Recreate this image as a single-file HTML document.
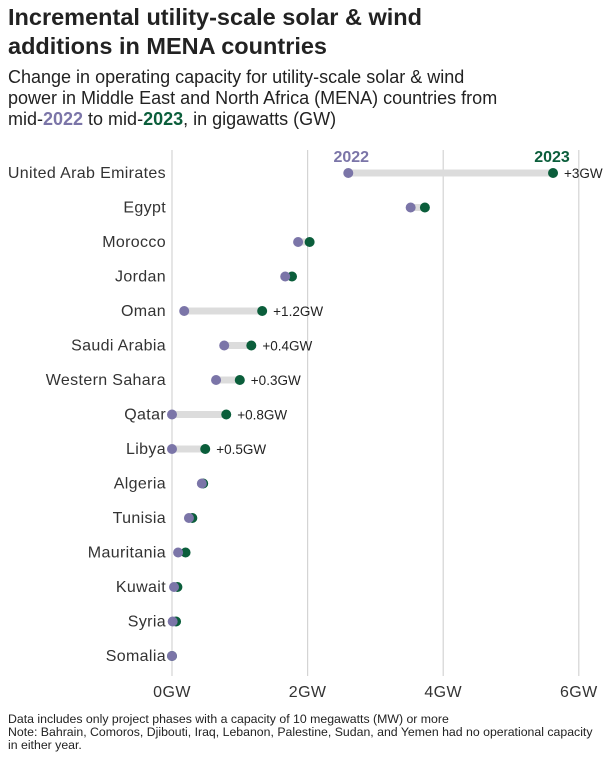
<!DOCTYPE html>
<html><head><meta charset="utf-8"><style>
body{margin:0;background:#fff;font-family:"Liberation Sans",sans-serif;color:#222;width:615px;height:762px;overflow:hidden;position:relative}
#title{position:absolute;left:8px;top:3px;font-size:23.5px;font-weight:bold;line-height:29px;color:#222}
#sub{position:absolute;left:8px;top:67px;font-size:18px;line-height:21px;color:#222}
#notes{position:absolute;left:8px;top:713px;font-size:12.3px;line-height:13px;color:#222}
</style></head><body>
<div id="title">Incremental utility-scale solar &amp; wind<br>additions in MENA countries</div>
<div id="sub">Change in operating capacity for utility-scale solar &amp; wind<br>power in Middle East and North Africa (MENA) countries from<br>mid-<b style="color:#7b75a8">2022</b> to mid-<b style="color:#0b5e3b">2023</b>, in gigawatts (GW)</div>
<svg id="chart" width="615" height="762" style="position:absolute;left:0;top:0"></svg>
<div id="notes">Data includes only project phases with a capacity of 10 megawatts (MW) or more<br>Note: Bahrain, Comoros, Djibouti, Iraq, Lebanon, Palestine, Sudan, and Yemen had no operational capacity<br>in either year.</div>
<script>
const countries=["United Arab Emirates","Egypt","Morocco","Jordan","Oman","Saudi Arabia","Western Sahara","Qatar","Libya","Algeria","Tunisia","Mauritania","Kuwait","Syria","Somalia"];
const v2022=[2.6,3.52,1.86,1.67,0.18,0.77,0.65,0,0,0.44,0.25,0.09,0.03,0.01,0];
const v2023=[5.62,3.73,2.03,1.77,1.33,1.17,1.0,0.8,0.49,0.46,0.30,0.2,0.08,0.06,0];
const changeLabels=["+3GW","","","","+1.2GW","+0.4GW","+0.3GW","+0.8GW","+0.5GW","","","","","",""];
const ticks=[0,2,4,6];
const tickLabels=["0GW","2GW","4GW","6GW"];
const NS="http://www.w3.org/2000/svg";
const svg=document.getElementById("chart");
const x=v=>172+v*67.8;
const y=i=>173+i*34.5;
function mk(t,a){const e=document.createElementNS(NS,t);for(const k in a)e.setAttribute(k,a[k]);svg.appendChild(e);return e;}
ticks.forEach((t,i)=>{
  const g=mk("line",{x1:x(t),x2:x(t),y1:150,y2:676,stroke:"#d4d4d4","stroke-width":1.2});
  
  
  const l=mk("text",{x:x(t),y:697,"text-anchor":"middle","font-size":16,"letter-spacing":0.4,fill:"#333"});
  l.textContent=tickLabels[i];
  
  
});
countries.forEach((c,i)=>{
  const cy=y(i);
  const t=mk("text",{x:166,y:cy+5,"text-anchor":"end","font-size":16,"letter-spacing":0.35,fill:"#333"});
  t.textContent=c;
  
  
  const ln=mk("line",{x1:x(v2022[i]),x2:x(v2023[i]),y1:cy,y2:cy,stroke:"#dcdcdc","stroke-width":7});
  
  
  const d2=mk("circle",{cx:x(v2023[i]),cy:cy,r:5,fill:"#0b5e3b"});
  
  
  const d1=mk("circle",{cx:x(v2022[i]),cy:cy,r:5,fill:"#7b75a8"});
  
  
  if(changeLabels[i]){
    const cl=mk("text",{x:x(v2023[i])+11,y:cy+5,"font-size":13.5,fill:"#222"});
    cl.textContent=changeLabels[i];
    
    
  }
});
const a=mk("text",{x:x(v2022[0])+3,y:162,"text-anchor":"middle","font-size":16,"font-weight":"bold",fill:"#7b75a8"});
a.textContent="2022";


const b=mk("text",{x:x(v2023[0])-1,y:162,"text-anchor":"middle","font-size":16,"font-weight":"bold",fill:"#0b5e3b"});
b.textContent="2023";


</script>
</body></html>
